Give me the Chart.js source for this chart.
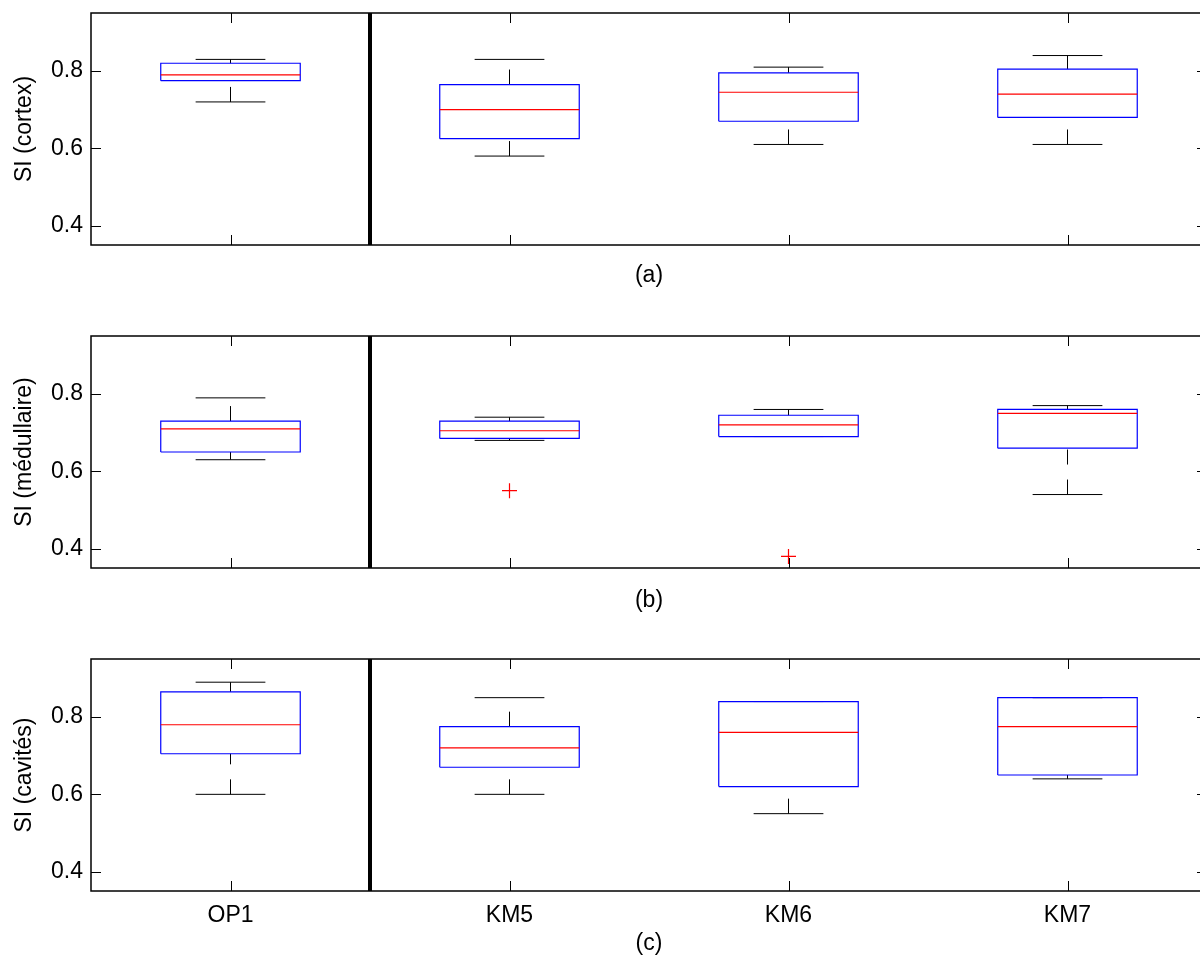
<!DOCTYPE html>
<html>
<head>
<meta charset="utf-8">
<script src="https://cdn.jsdelivr.net/npm/chart.js@4"></script>
<style>
  html, body { margin: 0; padding: 0; background: #fff; }
  #wrap { position: relative; width: 1200px; height: 959px; overflow: hidden; }
  canvas { position: absolute; left: 0; }
</style>
</head>
<body>
<div id="wrap">
  <canvas id="panelA" width="1208" height="310" style="top:-10px"></canvas>
  <canvas id="panelB" width="1208" height="320" style="top:310px"></canvas>
  <canvas id="panelC" width="1208" height="329" style="top:630px"></canvas>
</div>
<script>
const categories = ["OP1", "KM5", "KM6", "KM7"];
const yTicks = [0.4, 0.6, 0.8];
const yMin = 0.35;
const yMax = 0.95;
const dividerAt = 1.5;

// (a) cortex
const cortexLow = [0.72, 0.58, 0.61, 0.61];
const cortexQ1 = [0.775, 0.625, 0.67, 0.68];
const cortexMed = [0.79, 0.70, 0.745, 0.74];
const cortexQ3 = [0.82, 0.765, 0.795, 0.805];
const cortexHigh = [0.83, 0.83, 0.81, 0.84];
const cortexOut = [[], [], [], []];

// (b) médullaire
const medulLow = [0.63, 0.68, 0.69, 0.54];
const medulQ1 = [0.65, 0.685, 0.69, 0.66];
const medulMed = [0.71, 0.705, 0.72, 0.75];
const medulQ3 = [0.73, 0.73, 0.745, 0.76];
const medulHigh = [0.79, 0.74, 0.76, 0.77];
const medulOut = [[], [0.55], [0.38], []];

// (c) cavités
const cavLow = [0.60, 0.60, 0.55, 0.64];
const cavQ1 = [0.705, 0.67, 0.62, 0.65];
const cavMed = [0.78, 0.72, 0.76, 0.775];
const cavQ3 = [0.865, 0.775, 0.84, 0.85];
const cavHigh = [0.89, 0.85, 0.84, 0.85];
const cavOut = [[], [], [], []];

const FONT = { family: "'Liberation Sans', Arial, Helvetica, sans-serif", size: 23 };
const BOX_HALF = 0.25;
const CAP_HALF = 0.125;

// inward ticks + axes frame, MATLAB style
const framePlugin = {
  id: "frame",
  afterDatasetsDraw(chart) {
    const { ctx, chartArea: a, scales: { x, y } } = chart;
    const len = 10;
    ctx.save();
    ctx.strokeStyle = "#000";
    ctx.lineWidth = 1;
    ctx.beginPath();
    y.ticks.forEach((t) => {
      const py = Math.round(y.getPixelForValue(t.value)) + 0.5;
      ctx.moveTo(a.left, py); ctx.lineTo(a.left + len, py);
      ctx.moveTo(a.right, py); ctx.lineTo(a.right - len, py);
    });
    x.ticks.forEach((t) => {
      const px = Math.round(x.getPixelForValue(t.value)) + 0.5;
      ctx.moveTo(px, a.top); ctx.lineTo(px, a.top + len);
      ctx.moveTo(px, a.bottom); ctx.lineTo(px, a.bottom - len);
    });
    ctx.stroke();
    ctx.lineWidth = 1.5;
    ctx.strokeRect(a.left, a.top, a.right - a.left, a.bottom - a.top);
    ctx.restore();
  },
};

function boxDatasets(low, q1, med, q3, high, outliers) {
  const box = [], medLine = [], whisk = [], caps = [], outs = [];
  low.forEach((_, k) => {
    const c = k + 1;
    box.push(
      { x: c - BOX_HALF, y: q1[k] }, { x: c + BOX_HALF, y: q1[k] },
      { x: c + BOX_HALF, y: q3[k] }, { x: c - BOX_HALF, y: q3[k] },
      { x: c - BOX_HALF, y: q1[k] }, { x: c, y: null }
    );
    medLine.push({ x: c - BOX_HALF, y: med[k] }, { x: c + BOX_HALF, y: med[k] }, { x: c, y: null });
    whisk.push(
      { x: c, y: low[k] }, { x: c, y: q1[k] }, { x: c, y: null },
      { x: c, y: q3[k] }, { x: c, y: high[k] }, { x: c, y: null }
    );
    caps.push(
      { x: c - CAP_HALF, y: low[k] }, { x: c + CAP_HALF, y: low[k] }, { x: c, y: null },
      { x: c - CAP_HALF, y: high[k] }, { x: c + CAP_HALF, y: high[k] }, { x: c, y: null }
    );
    outliers[k].forEach((v) => outs.push({ x: c, y: v }));
  });
  const line = { showLine: true, pointRadius: 0, spanGaps: false, fill: false };
  return [
    { ...line, data: outs, showLine: false, pointStyle: "cross", pointRadius: 7.5, borderColor: "#ff0000", borderWidth: 1.2, order: 0 },
    { ...line, data: medLine, borderColor: "#ff0000", borderWidth: 1.2, order: 1 },
    { ...line, data: box, borderColor: "#0000ff", borderWidth: 1.2, order: 2 },
    { ...line, data: caps, borderColor: "#000", borderWidth: 1, order: 3 },
    { ...line, data: whisk, borderColor: "#000", borderWidth: 1, borderDash: [15, 15], order: 4 },
    { ...line, data: [{ x: dividerAt, y: yMin }, { x: dividerAt, y: yMax }], borderColor: "#000", borderWidth: 4, order: 5 },
  ];
}

function makePanel(id, yTitle, xTitle, stats, opts) {
  new Chart(document.getElementById(id), {
    type: "scatter",
    data: { datasets: boxDatasets(...stats) },
    options: {
      responsive: false,
      animation: false,
      events: [],
      layout: { autoPadding: false, padding: { top: opts.padTop, right: 1, left: 0, bottom: 0 } },
      plugins: { legend: { display: false }, tooltip: { enabled: false } },
      scales: {
        x: {
          type: "linear",
          min: 0.5,
          max: categories.length + 0.5,
          afterBuildTicks: (s) => { s.ticks = categories.map((_, k) => ({ value: k + 1 })); },
          afterFit: (s) => { s.height = opts.xHeight; },
          grid: { display: false, drawTicks: false },
          border: { display: false },
          ticks: {
            display: opts.showLabels,
            autoSkip: false,
            maxRotation: 0,
            padding: 11,
            color: "#000",
            font: FONT,
            callback: (v) => categories[v - 1],
          },
          title: { display: true, text: xTitle, color: "#000", font: FONT, padding: { top: 0, bottom: opts.titlePad } },
        },
        y: {
          min: yMin,
          max: yMax,
          afterBuildTicks: (s) => { s.ticks = yTicks.map((v) => ({ value: v })); },
          afterFit: (s) => { s.width = 91; },
          grid: { display: false, drawTicks: false },
          border: { display: false },
          ticks: { padding: 8, color: "#000", font: FONT, callback: (v) => v.toFixed(1) },
          title: { display: true, text: yTitle, color: "#000", font: FONT, padding: { top: 11, bottom: 0 } },
        },
      },
    },
    plugins: [framePlugin],
  });
}

makePanel("panelA", "SI (cortex)", "(a)",
  [cortexLow, cortexQ1, cortexMed, cortexQ3, cortexHigh, cortexOut],
  { padTop: 23, xHeight: 55, titlePad: 11, showLabels: false });
makePanel("panelB", "SI (médullaire)", "(b)",
  [medulLow, medulQ1, medulMed, medulQ3, medulHigh, medulOut],
  { padTop: 26, xHeight: 62, titlePad: 16, showLabels: false });
makePanel("panelC", "SI (cavités)", "(c)",
  [cavLow, cavQ1, cavMed, cavQ3, cavHigh, cavOut],
  { padTop: 29, xHeight: 68, titlePad: 2, showLabels: true });
</script>
</body>
</html>
